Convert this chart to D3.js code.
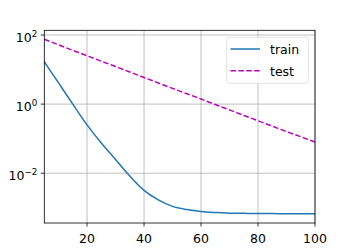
<!DOCTYPE html>
<html>
<head>
<meta charset="utf-8">
<script src="https://d3js.org/d3.v7.min.js"></script>
<style>
  body { margin: 0; background: #fff; }
  svg { display: block; font-family: "DejaVu Sans", sans-serif; }
</style>
</head>
<body>
<script>
// epochs sampled every 5
const epochs = [5, 10, 15, 20, 25, 30, 35, 40, 45, 50, 55, 60, 65, 70, 75, 80, 85, 90, 95, 100];
const trainLoss = [16.8, 4.1, 1.0, 0.25, 0.075, 0.025, 0.0083, 0.0032, 0.0017, 0.0011,
  0.00089, 0.00078, 0.00073, 0.0007, 0.00069, 0.00068, 0.00068, 0.00067, 0.00067, 0.00067];
const testLoss = [75, 52, 36, 25, 17.5, 12.2, 8.5, 5.9, 4.1, 2.85,
  2.0, 1.4, 0.97, 0.68, 0.47, 0.33, 0.23, 0.16, 0.114, 0.08];
const xTicks = [20, 40, 60, 80, 100];
const yTicks = [-2, 0, 2];
const seriesNames = ["train", "test"];

const W = 350, H = 250;
const m = { left: 44.3, right: 315, top: 30.3, bottom: 223 };
const fs = 12.5;

const x = d3.scaleLinear().domain([5, 100]).range([m.left, m.right]);
const y = d3.scaleLog().domain([Math.pow(10, -3.44), Math.pow(10, 2.136)]).range([m.bottom, m.top]);

const svg = d3.select("body").append("svg").attr("width", W).attr("height", H);

// grid
const grid = svg.append("g").attr("stroke", "#b0b0b0").attr("stroke-width", 0.8);
grid.selectAll(".gx").data(xTicks).enter().append("line")
  .attr("x1", d => x(d)).attr("x2", d => x(d))
  .attr("y1", m.top).attr("y2", m.bottom);
grid.selectAll(".gy").data(yTicks).enter().append("line")
  .attr("x1", m.left).attr("x2", m.right)
  .attr("y1", d => y(Math.pow(10, d))).attr("y2", d => y(Math.pow(10, d)));

// lines
const line = vals => d3.line().curve(d3.curveMonotoneX)
  .x((d, i) => x(epochs[i])).y(d => y(d))(vals);
svg.append("path").attr("d", line(trainLoss))
  .attr("fill", "none").attr("stroke", "#1f77b4").attr("stroke-width", 1.5);
svg.append("path").attr("d", line(testLoss))
  .attr("fill", "none").attr("stroke", "#bf00bf").attr("stroke-width", 1.5)
  .attr("stroke-dasharray", "5.5,2.4");

// spines
svg.append("rect").attr("x", m.left).attr("y", m.top)
  .attr("width", m.right - m.left).attr("height", m.bottom - m.top)
  .attr("fill", "none").attr("stroke", "#000").attr("stroke-width", 0.8);

// x axis
const xa = svg.append("g");
xa.selectAll("line").data(xTicks).enter().append("line")
  .attr("x1", d => x(d)).attr("x2", d => x(d))
  .attr("y1", m.bottom).attr("y2", m.bottom + 3.5)
  .attr("stroke", "#000").attr("stroke-width", 0.8);
xa.selectAll("text").data(xTicks).enter().append("text")
  .attr("x", d => x(d)).attr("y", m.bottom + 19.5)
  .attr("text-anchor", "middle").attr("font-size", fs).text(d => d);

// y axis
const ya = svg.append("g");
ya.selectAll("line").data(yTicks).enter().append("line")
  .attr("x1", m.left - 3.5).attr("x2", m.left)
  .attr("y1", d => y(Math.pow(10, d))).attr("y2", d => y(Math.pow(10, d)))
  .attr("stroke", "#000").attr("stroke-width", 0.8);
const yl = ya.selectAll("text").data(yTicks).enter().append("text")
  .attr("x", m.left - 7).attr("y", d => y(Math.pow(10, d)) + 6.5)
  .attr("text-anchor", "end").attr("font-size", fs);
yl.append("tspan").text("10");
yl.append("tspan").attr("dy", -5).attr("font-size", fs * 0.7)
  .text(d => d < 0 ? "\u2212" + Math.abs(d) : d);

// legend
const lg = svg.append("g");
lg.append("rect").attr("x", 226.7).attr("y", 37.3).attr("width", 81.6).attr("height", 46)
  .attr("rx", 2.5).attr("fill", "#fff").attr("fill-opacity", 0.8)
  .attr("stroke", "#d9d9d9").attr("stroke-width", 0.8);
const colors = ["#1f77b4", "#bf00bf"];
const dashes = [null, "5.5,2.4"];
seriesNames.forEach((name, i) => {
  const ly = 49 + i * 21.7;
  lg.append("line").attr("x1", 230.5).attr("x2", 260).attr("y1", ly).attr("y2", ly)
    .attr("stroke", colors[i]).attr("stroke-width", 1.5)
    .attr("stroke-dasharray", dashes[i]);
  lg.append("text").attr("x", 270).attr("y", ly + 5).attr("font-size", fs).text(name);
});
</script>
</body>
</html>
